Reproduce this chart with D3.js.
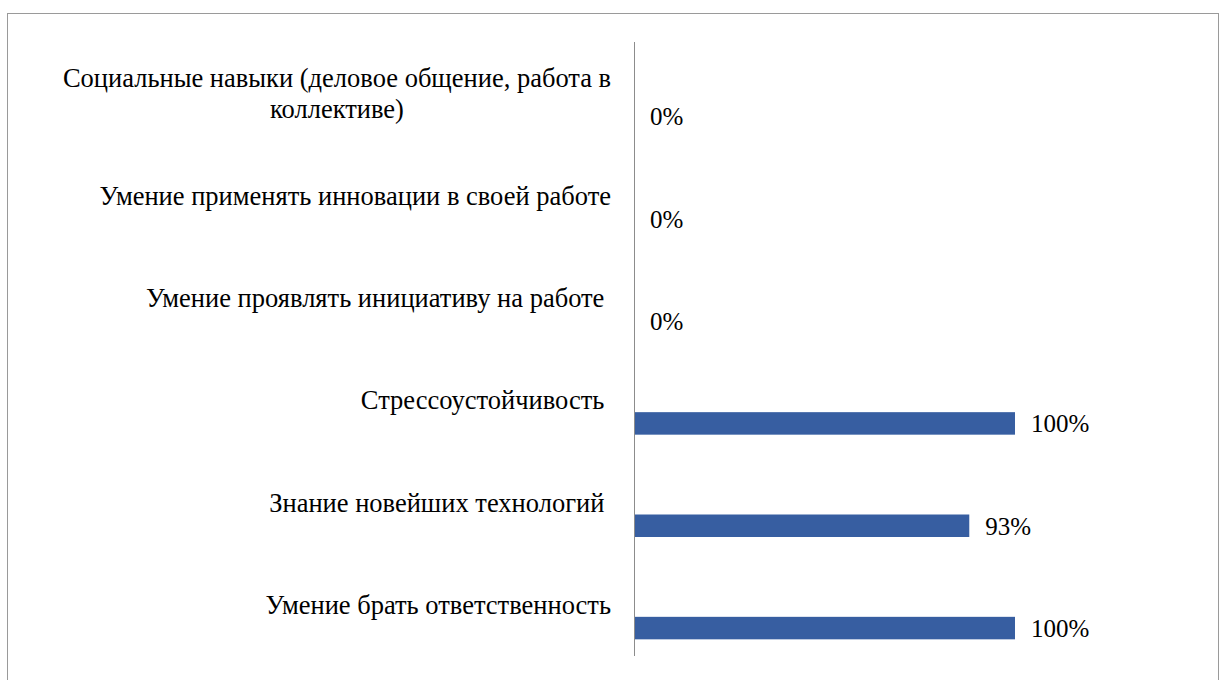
<!DOCTYPE html>
<html><head><meta charset="utf-8"><script src="https://cdn.jsdelivr.net/npm/d3@7"></script></head>
<body style="margin:0">
<svg class="chart" width="1219" height="680"></svg>
<script>
// categories top to bottom, each label split into lines
var categories = [
  ["Социальные навыки (деловое общение, работа в", "коллективе)"],
  ["Умение применять инновации в своей работе"],
  ["Умение проявлять инициативу на работе "],
  ["Стрессоустойчивость "],
  ["Знание новейших технологий "],
  ["Умение брать ответственность"]
];
var values = [0, 0, 0, 100, 88, 100];
var valueLabels = ["0%", "0%", "0%", "100%", "93%", "100%"];

var drawChart = function(w, h, c)
{
  var svg = d3.select(c)
              .attr("width", w)
              .attr("height", h);

  // outer frame
  svg.append("rect")
     .attr("x", 7.5).attr("y", 13.5)
     .attr("width", w - 8).attr("height", h)
     .attr("fill", "none")
     .attr("stroke", "#9a9a9a")
     .attr("stroke-width", 1);

  var axisX = 634;
  var top = 42, bottom = 656;

  var xScale = d3.scaleLinear()
                 .domain([0, 100])
                 .range([axisX, axisX + 381]);
  var yScale = d3.scaleBand()
                 .domain(d3.range(categories.length))
                 .range([top, bottom]);

  var bh = 22.5;
  var off = 12;

  svg.append("g").attr("class", "bars")
     .selectAll("rect")
     .data(values)
     .enter().append("rect")
     .attr("x", xScale(0))
     .attr("y", function(d, i){ return yScale(i) + yScale.bandwidth() / 2 + off; })
     .attr("width", function(d){ return xScale(d) - xScale(0); })
     .attr("height", bh)
     .attr("fill", "#375ea1");

  // category axis
  svg.append("line")
     .attr("x1", axisX + 0.5).attr("x2", axisX + 0.5)
     .attr("y1", top).attr("y2", bottom)
     .attr("stroke", "#8c8c8c");

  // value labels
  values.forEach(function(d, i){
    svg.append("text")
       .attr("x", xScale(d) + 16)
       .attr("y", yScale(i) + yScale.bandwidth() / 2 + off + bh / 2 + 9)
       .attr("font-family", "Liberation Serif")
       .attr("font-size", 25)
       .text(valueLabels[i]);
  });

  // category labels
  var lineH = 31;
  categories.forEach(function(lines, i){
    var two = lines.length > 1;
    var y0 = yScale(i) + yScale.bandwidth() / 2 - (lines.length - 1) * lineH / 2 + 9;
    lines.forEach(function(s, j){
      svg.append("text")
         .attr("x", two ? 337 : 611)
         .attr("y", y0 + j * lineH)
         .attr("text-anchor", two ? "middle" : "end")
         .attr("font-family", "Liberation Serif")
         .attr("font-size", 26.5)
         .style("white-space", "pre")
         .text(s);
    });
  });
}

drawChart(1219, 680, ".chart");
</script>
</body></html>
